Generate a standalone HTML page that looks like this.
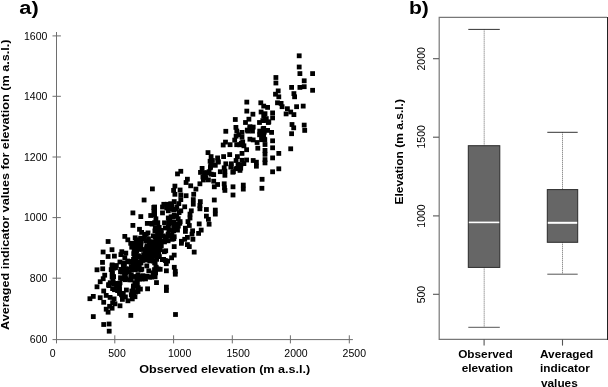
<!DOCTYPE html>
<html><head><meta charset="utf-8"><title>Figure</title>
<style>
html,body{margin:0;padding:0;background:#fff;}
body{width:608px;height:387px;overflow:hidden;font-family:"Liberation Sans",sans-serif;}
svg{display:block;}
text{font-family:"Liberation Sans",sans-serif;fill:#000;}
.b{font-weight:bold;}
</style></head><body>
<svg style="filter:grayscale(1)" width="608" height="387" viewBox="0 0 608 387">
<rect width="608" height="387" fill="#fff"/>

<text class="b" x="19.3" y="14" font-size="18" textLength="19.4" lengthAdjust="spacingAndGlyphs">a)</text>
<text class="b" x="408.9" y="14" font-size="18.4" textLength="19.9" lengthAdjust="spacingAndGlyphs">b)</text>
<g stroke="#6e6e6e" stroke-width="1" fill="none">
<line x1="56.5" y1="32" x2="56.5" y2="343.4"/>
<line x1="52.5" y1="339.6" x2="352.9" y2="339.6"/>
<line x1="52.5" y1="35.9" x2="60.9" y2="35.9"/>
<line x1="52.5" y1="96.3" x2="60.9" y2="96.3"/>
<line x1="52.5" y1="157" x2="60.9" y2="157"/>
<line x1="52.5" y1="217.6" x2="60.9" y2="217.6"/>
<line x1="52.5" y1="278.2" x2="60.9" y2="278.2"/>
<line x1="114.8" y1="335.3" x2="114.8" y2="343.4"/>
<line x1="173.6" y1="335.3" x2="173.6" y2="343.4"/>
<line x1="232.3" y1="335.3" x2="232.3" y2="343.4"/>
<line x1="290.4" y1="335.3" x2="290.4" y2="343.4"/>
<line x1="349.3" y1="335.3" x2="349.3" y2="343.4"/>
</g>
<text x="47.4" y="342.8" font-size="10.5" text-anchor="end">600</text>
<text x="47.4" y="281.95" font-size="10.5" text-anchor="end">800</text>
<text x="47.4" y="221.35" font-size="10.5" text-anchor="end">1000</text>
<text x="47.4" y="160.65" font-size="10.5" text-anchor="end">1200</text>
<text x="47.4" y="99.75" font-size="10.5" text-anchor="end">1400</text>
<text x="47.4" y="39.7" font-size="10.5" text-anchor="end">1600</text>
<text x="52.7" y="356.7" font-size="10.5" text-anchor="middle">0</text>
<text x="117" y="356.7" font-size="10.5" text-anchor="middle">500</text>
<text x="179.6" y="356.7" font-size="10.5" text-anchor="middle">1000</text>
<text x="238.2" y="356.7" font-size="10.5" text-anchor="middle">1500</text>
<text x="296" y="356.7" font-size="10.5" text-anchor="middle">2000</text>
<text x="354.3" y="356.7" font-size="10.5" text-anchor="middle">2500</text>
<text class="b" x="139.3" y="373.2" font-size="11.5" textLength="171" lengthAdjust="spacingAndGlyphs">Observed elevation (m a.s.l.)</text>
<text class="b" transform="translate(9.1,330) rotate(-90)" font-size="11.5" textLength="290.5" lengthAdjust="spacingAndGlyphs">Averaged indicator values for elevation (m a.s.l.)</text>
<g fill="#000">
<rect x="296.8" y="53.4" width="4.8" height="4.8"/>
<rect x="296.8" y="64.6" width="4.8" height="4.8"/>
<rect x="297.5" y="71.2" width="4.8" height="4.8"/>
<rect x="310.2" y="71.2" width="4.8" height="4.8"/>
<rect x="273.5" y="75.1" width="4.8" height="4.8"/>
<rect x="273.5" y="80.6" width="4.8" height="4.8"/>
<rect x="301.8" y="78.4" width="4.8" height="4.8"/>
<rect x="289.2" y="85.0" width="4.8" height="4.8"/>
<rect x="297.5" y="85.0" width="4.8" height="4.8"/>
<rect x="301.8" y="84.3" width="4.8" height="4.8"/>
<rect x="310.2" y="87.9" width="4.8" height="4.8"/>
<rect x="275.8" y="88.5" width="4.8" height="4.8"/>
<rect x="273.1" y="91.8" width="4.8" height="4.8"/>
<rect x="276.4" y="94.4" width="4.8" height="4.8"/>
<rect x="291.5" y="91.2" width="4.8" height="4.8"/>
<rect x="292.2" y="94.4" width="4.8" height="4.8"/>
<rect x="244.4" y="99.7" width="4.8" height="4.8"/>
<rect x="258.4" y="100.4" width="4.8" height="4.8"/>
<rect x="261.3" y="103.7" width="4.8" height="4.8"/>
<rect x="265.2" y="105.0" width="4.8" height="4.8"/>
<rect x="275.1" y="100.4" width="4.8" height="4.8"/>
<rect x="278.7" y="101.0" width="4.8" height="4.8"/>
<rect x="279.7" y="104.3" width="4.8" height="4.8"/>
<rect x="285.0" y="106.3" width="4.8" height="4.8"/>
<rect x="294.2" y="104.3" width="4.8" height="4.8"/>
<rect x="300.8" y="103.7" width="4.8" height="4.8"/>
<rect x="244.4" y="108.7" width="4.8" height="4.8"/>
<rect x="250.5" y="111.8" width="4.8" height="4.8"/>
<rect x="258.7" y="109.6" width="4.8" height="4.8"/>
<rect x="261.3" y="113.5" width="4.8" height="4.8"/>
<rect x="270.2" y="110.5" width="4.8" height="4.8"/>
<rect x="283.7" y="111.5" width="4.8" height="4.8"/>
<rect x="288.3" y="109.6" width="4.8" height="4.8"/>
<rect x="291.5" y="112.2" width="4.8" height="4.8"/>
<rect x="246.5" y="116.8" width="4.8" height="4.8"/>
<rect x="243.1" y="120.1" width="4.8" height="4.8"/>
<rect x="257.1" y="120.1" width="4.8" height="4.8"/>
<rect x="263.9" y="116.2" width="4.8" height="4.8"/>
<rect x="270.2" y="115.5" width="4.8" height="4.8"/>
<rect x="265.9" y="120.1" width="4.8" height="4.8"/>
<rect x="262.6" y="118.1" width="4.8" height="4.8"/>
<rect x="247.5" y="125.4" width="4.8" height="4.8"/>
<rect x="250.8" y="124.7" width="4.8" height="4.8"/>
<rect x="245.5" y="128.7" width="4.8" height="4.8"/>
<rect x="250.1" y="128.7" width="4.8" height="4.8"/>
<rect x="239.6" y="130.0" width="4.8" height="4.8"/>
<rect x="257.3" y="128.7" width="4.8" height="4.8"/>
<rect x="261.3" y="126.0" width="4.8" height="4.8"/>
<rect x="265.2" y="128.0" width="4.8" height="4.8"/>
<rect x="269.2" y="130.0" width="4.8" height="4.8"/>
<rect x="289.6" y="122.1" width="4.8" height="4.8"/>
<rect x="291.3" y="125.4" width="4.8" height="4.8"/>
<rect x="301.8" y="122.7" width="4.8" height="4.8"/>
<rect x="302.3" y="128.0" width="4.8" height="4.8"/>
<rect x="289.2" y="131.3" width="4.8" height="4.8"/>
<rect x="232.9" y="117.1" width="4.8" height="4.8"/>
<rect x="233.5" y="125.0" width="4.8" height="4.8"/>
<rect x="223.4" y="128.9" width="4.8" height="4.8"/>
<rect x="234.4" y="128.6" width="4.8" height="4.8"/>
<rect x="239.6" y="134.8" width="4.8" height="4.8"/>
<rect x="259.3" y="133.5" width="4.8" height="4.8"/>
<rect x="261.9" y="136.8" width="4.8" height="4.8"/>
<rect x="247.5" y="136.8" width="4.8" height="4.8"/>
<rect x="250.8" y="137.5" width="4.8" height="4.8"/>
<rect x="254.7" y="140.1" width="4.8" height="4.8"/>
<rect x="270.2" y="138.4" width="4.8" height="4.8"/>
<rect x="262.6" y="142.1" width="4.8" height="4.8"/>
<rect x="241.5" y="143.4" width="4.8" height="4.8"/>
<rect x="238.9" y="140.8" width="4.8" height="4.8"/>
<rect x="244.2" y="147.3" width="4.8" height="4.8"/>
<rect x="255.4" y="145.8" width="4.8" height="4.8"/>
<rect x="270.2" y="145.4" width="4.8" height="4.8"/>
<rect x="288.3" y="146.4" width="4.8" height="4.8"/>
<rect x="239.6" y="151.0" width="4.8" height="4.8"/>
<rect x="262.6" y="148.0" width="4.8" height="4.8"/>
<rect x="262.6" y="151.9" width="4.8" height="4.8"/>
<rect x="276.4" y="151.0" width="4.8" height="4.8"/>
<rect x="270.2" y="155.5" width="4.8" height="4.8"/>
<rect x="262.6" y="157.2" width="4.8" height="4.8"/>
<rect x="262.6" y="160.5" width="4.8" height="4.8"/>
<rect x="239.6" y="157.9" width="4.8" height="4.8"/>
<rect x="244.2" y="157.6" width="4.8" height="4.8"/>
<rect x="250.8" y="158.1" width="4.8" height="4.8"/>
<rect x="254.0" y="159.8" width="4.8" height="4.8"/>
<rect x="254.0" y="163.8" width="4.8" height="4.8"/>
<rect x="241.5" y="161.2" width="4.8" height="4.8"/>
<rect x="238.3" y="165.8" width="4.8" height="4.8"/>
<rect x="276.4" y="166.4" width="4.8" height="4.8"/>
<rect x="270.2" y="169.4" width="4.8" height="4.8"/>
<rect x="259.7" y="176.9" width="4.8" height="4.8"/>
<rect x="233.7" y="133.8" width="4.8" height="4.8"/>
<rect x="232.3" y="137.7" width="4.8" height="4.8"/>
<rect x="223.1" y="139.7" width="4.8" height="4.8"/>
<rect x="220.8" y="142.6" width="4.8" height="4.8"/>
<rect x="227.7" y="142.3" width="4.8" height="4.8"/>
<rect x="234.3" y="142.3" width="4.8" height="4.8"/>
<rect x="205.6" y="150.2" width="4.8" height="4.8"/>
<rect x="208.7" y="154.2" width="4.8" height="4.8"/>
<rect x="227.3" y="152.2" width="4.8" height="4.8"/>
<rect x="221.2" y="154.2" width="4.8" height="4.8"/>
<rect x="215.2" y="155.5" width="4.8" height="4.8"/>
<rect x="210.0" y="158.1" width="4.8" height="4.8"/>
<rect x="215.9" y="159.4" width="4.8" height="4.8"/>
<rect x="235.0" y="154.2" width="4.8" height="4.8"/>
<rect x="233.7" y="158.1" width="4.8" height="4.8"/>
<rect x="223.4" y="161.4" width="4.8" height="4.8"/>
<rect x="229.0" y="161.4" width="4.8" height="4.8"/>
<rect x="208.7" y="162.1" width="4.8" height="4.8"/>
<rect x="235.6" y="162.1" width="4.8" height="4.8"/>
<rect x="199.7" y="166.0" width="4.8" height="4.8"/>
<rect x="208.0" y="165.4" width="4.8" height="4.8"/>
<rect x="221.8" y="165.4" width="4.8" height="4.8"/>
<rect x="228.4" y="164.7" width="4.8" height="4.8"/>
<rect x="235.0" y="166.0" width="4.8" height="4.8"/>
<rect x="178.4" y="168.9" width="4.8" height="4.8"/>
<rect x="175.1" y="171.5" width="4.8" height="4.8"/>
<rect x="198.1" y="170.0" width="4.8" height="4.8"/>
<rect x="206.7" y="169.3" width="4.8" height="4.8"/>
<rect x="217.9" y="169.3" width="4.8" height="4.8"/>
<rect x="222.5" y="168.7" width="4.8" height="4.8"/>
<rect x="231.0" y="169.3" width="4.8" height="4.8"/>
<rect x="237.6" y="168.0" width="4.8" height="4.8"/>
<rect x="202.1" y="170.2" width="4.8" height="4.8"/>
<rect x="211.3" y="172.2" width="4.8" height="4.8"/>
<rect x="202.1" y="174.8" width="4.8" height="4.8"/>
<rect x="206.0" y="177.5" width="4.8" height="4.8"/>
<rect x="222.5" y="172.9" width="4.8" height="4.8"/>
<rect x="185.0" y="176.8" width="4.8" height="4.8"/>
<rect x="183.7" y="180.1" width="4.8" height="4.8"/>
<rect x="188.3" y="183.4" width="4.8" height="4.8"/>
<rect x="197.5" y="181.4" width="4.8" height="4.8"/>
<rect x="193.5" y="186.7" width="4.8" height="4.8"/>
<rect x="211.3" y="178.8" width="4.8" height="4.8"/>
<rect x="215.2" y="182.1" width="4.8" height="4.8"/>
<rect x="211.9" y="184.4" width="4.8" height="4.8"/>
<rect x="221.8" y="181.4" width="4.8" height="4.8"/>
<rect x="222.1" y="185.4" width="4.8" height="4.8"/>
<rect x="222.5" y="188.0" width="4.8" height="4.8"/>
<rect x="230.6" y="184.4" width="4.8" height="4.8"/>
<rect x="240.9" y="182.7" width="4.8" height="4.8"/>
<rect x="240.9" y="186.7" width="4.8" height="4.8"/>
<rect x="230.6" y="192.6" width="4.8" height="4.8"/>
<rect x="172.5" y="183.7" width="4.8" height="4.8"/>
<rect x="171.2" y="188.0" width="4.8" height="4.8"/>
<rect x="177.7" y="187.6" width="4.8" height="4.8"/>
<rect x="172.5" y="191.9" width="4.8" height="4.8"/>
<rect x="178.4" y="192.6" width="4.8" height="4.8"/>
<rect x="183.7" y="193.3" width="4.8" height="4.8"/>
<rect x="191.3" y="191.9" width="4.8" height="4.8"/>
<rect x="190.9" y="197.2" width="4.8" height="4.8"/>
<rect x="190.9" y="201.8" width="4.8" height="4.8"/>
<rect x="178.4" y="197.2" width="4.8" height="4.8"/>
<rect x="171.8" y="199.2" width="4.8" height="4.8"/>
<rect x="176.4" y="201.2" width="4.8" height="4.8"/>
<rect x="211.9" y="197.6" width="4.8" height="4.8"/>
<rect x="197.9" y="199.2" width="4.8" height="4.8"/>
<rect x="197.5" y="203.1" width="4.8" height="4.8"/>
<rect x="197.5" y="206.4" width="4.8" height="4.8"/>
<rect x="165.2" y="204.4" width="4.8" height="4.8"/>
<rect x="169.2" y="203.8" width="4.8" height="4.8"/>
<rect x="174.4" y="204.4" width="4.8" height="4.8"/>
<rect x="182.3" y="204.4" width="4.8" height="4.8"/>
<rect x="165.9" y="208.4" width="4.8" height="4.8"/>
<rect x="171.2" y="207.7" width="4.8" height="4.8"/>
<rect x="178.4" y="208.4" width="4.8" height="4.8"/>
<rect x="188.9" y="208.4" width="4.8" height="4.8"/>
<rect x="204.0" y="207.1" width="4.8" height="4.8"/>
<rect x="212.9" y="207.7" width="4.8" height="4.8"/>
<rect x="212.9" y="211.7" width="4.8" height="4.8"/>
<rect x="187.6" y="211.7" width="4.8" height="4.8"/>
<rect x="204.0" y="213.7" width="4.8" height="4.8"/>
<rect x="171.8" y="213.0" width="4.8" height="4.8"/>
<rect x="165.9" y="215.6" width="4.8" height="4.8"/>
<rect x="175.8" y="216.3" width="4.8" height="4.8"/>
<rect x="187.6" y="215.6" width="4.8" height="4.8"/>
<rect x="206.0" y="216.9" width="4.8" height="4.8"/>
<rect x="150.0" y="186.5" width="4.8" height="4.8"/>
<rect x="141.7" y="197.6" width="4.8" height="4.8"/>
<rect x="161.4" y="201.9" width="4.8" height="4.8"/>
<rect x="160.1" y="204.6" width="4.8" height="4.8"/>
<rect x="152.2" y="204.6" width="4.8" height="4.8"/>
<rect x="152.2" y="208.5" width="4.8" height="4.8"/>
<rect x="152.2" y="212.5" width="4.8" height="4.8"/>
<rect x="130.5" y="210.5" width="4.8" height="4.8"/>
<rect x="138.4" y="214.2" width="4.8" height="4.8"/>
<rect x="160.1" y="210.5" width="4.8" height="4.8"/>
<rect x="153.5" y="216.4" width="4.8" height="4.8"/>
<rect x="168.7" y="214.4" width="4.8" height="4.8"/>
<rect x="173.9" y="213.8" width="4.8" height="4.8"/>
<rect x="130.5" y="223.0" width="4.8" height="4.8"/>
<rect x="149.6" y="221.7" width="4.8" height="4.8"/>
<rect x="153.5" y="221.0" width="4.8" height="4.8"/>
<rect x="162.1" y="220.4" width="4.8" height="4.8"/>
<rect x="167.3" y="218.4" width="4.8" height="4.8"/>
<rect x="171.3" y="219.7" width="4.8" height="4.8"/>
<rect x="137.1" y="226.9" width="4.8" height="4.8"/>
<rect x="152.9" y="225.6" width="4.8" height="4.8"/>
<rect x="156.8" y="225.0" width="4.8" height="4.8"/>
<rect x="166.0" y="225.0" width="4.8" height="4.8"/>
<rect x="171.3" y="224.3" width="4.8" height="4.8"/>
<rect x="175.9" y="223.7" width="4.8" height="4.8"/>
<rect x="170.5" y="214.6" width="4.8" height="4.8"/>
<rect x="166.5" y="219.8" width="4.8" height="4.8"/>
<rect x="177.7" y="219.2" width="4.8" height="4.8"/>
<rect x="185.6" y="219.2" width="4.8" height="4.8"/>
<rect x="186.9" y="223.1" width="4.8" height="4.8"/>
<rect x="206.7" y="221.8" width="4.8" height="4.8"/>
<rect x="196.8" y="221.5" width="4.8" height="4.8"/>
<rect x="198.8" y="227.7" width="4.8" height="4.8"/>
<rect x="196.2" y="231.0" width="4.8" height="4.8"/>
<rect x="183.0" y="225.8" width="4.8" height="4.8"/>
<rect x="183.0" y="229.0" width="4.8" height="4.8"/>
<rect x="190.2" y="228.4" width="4.8" height="4.8"/>
<rect x="189.6" y="231.7" width="4.8" height="4.8"/>
<rect x="166.5" y="227.7" width="4.8" height="4.8"/>
<rect x="171.2" y="228.4" width="4.8" height="4.8"/>
<rect x="175.1" y="227.7" width="4.8" height="4.8"/>
<rect x="165.9" y="233.7" width="4.8" height="4.8"/>
<rect x="171.8" y="234.3" width="4.8" height="4.8"/>
<rect x="163.9" y="236.9" width="4.8" height="4.8"/>
<rect x="169.8" y="236.9" width="4.8" height="4.8"/>
<rect x="185.0" y="235.0" width="4.8" height="4.8"/>
<rect x="182.3" y="236.9" width="4.8" height="4.8"/>
<rect x="190.5" y="236.9" width="4.8" height="4.8"/>
<rect x="179.0" y="238.9" width="4.8" height="4.8"/>
<rect x="179.0" y="240.9" width="4.8" height="4.8"/>
<rect x="185.0" y="242.2" width="4.8" height="4.8"/>
<rect x="186.9" y="244.2" width="4.8" height="4.8"/>
<rect x="171.8" y="244.2" width="4.8" height="4.8"/>
<rect x="191.8" y="249.7" width="4.8" height="4.8"/>
<rect x="163.3" y="248.4" width="4.8" height="4.8"/>
<rect x="171.8" y="252.7" width="4.8" height="4.8"/>
<rect x="169.2" y="255.4" width="4.8" height="4.8"/>
<rect x="165.2" y="258.7" width="4.8" height="4.8"/>
<rect x="163.9" y="261.3" width="4.8" height="4.8"/>
<rect x="122.4" y="234.0" width="4.8" height="4.8"/>
<rect x="125.4" y="237.4" width="4.8" height="4.8"/>
<rect x="128.3" y="240.9" width="4.8" height="4.8"/>
<rect x="109.6" y="247.3" width="4.8" height="4.8"/>
<rect x="112.0" y="253.7" width="4.8" height="4.8"/>
<rect x="119.4" y="249.3" width="4.8" height="4.8"/>
<rect x="118.5" y="252.2" width="4.8" height="4.8"/>
<rect x="123.4" y="250.7" width="4.8" height="4.8"/>
<rect x="122.4" y="255.2" width="4.8" height="4.8"/>
<rect x="117.5" y="259.6" width="4.8" height="4.8"/>
<rect x="125.4" y="258.6" width="4.8" height="4.8"/>
<rect x="128.8" y="259.1" width="4.8" height="4.8"/>
<rect x="129.3" y="244.8" width="4.8" height="4.8"/>
<rect x="132.8" y="235.4" width="4.8" height="4.8"/>
<rect x="136.2" y="237.4" width="4.8" height="4.8"/>
<rect x="139.2" y="230.0" width="4.8" height="4.8"/>
<rect x="142.2" y="232.5" width="4.8" height="4.8"/>
<rect x="145.6" y="230.5" width="4.8" height="4.8"/>
<rect x="141.7" y="236.4" width="4.8" height="4.8"/>
<rect x="146.1" y="236.4" width="4.8" height="4.8"/>
<rect x="152.5" y="228.5" width="4.8" height="4.8"/>
<rect x="158.9" y="228.0" width="4.8" height="4.8"/>
<rect x="162.9" y="225.6" width="4.8" height="4.8"/>
<rect x="151.0" y="233.5" width="4.8" height="4.8"/>
<rect x="157.0" y="235.4" width="4.8" height="4.8"/>
<rect x="160.9" y="233.5" width="4.8" height="4.8"/>
<rect x="135.2" y="242.3" width="4.8" height="4.8"/>
<rect x="132.3" y="245.3" width="4.8" height="4.8"/>
<rect x="134.3" y="248.3" width="4.8" height="4.8"/>
<rect x="144.6" y="243.3" width="4.8" height="4.8"/>
<rect x="147.1" y="240.4" width="4.8" height="4.8"/>
<rect x="151.0" y="239.4" width="4.8" height="4.8"/>
<rect x="155.0" y="240.4" width="4.8" height="4.8"/>
<rect x="160.9" y="238.9" width="4.8" height="4.8"/>
<rect x="144.1" y="246.3" width="4.8" height="4.8"/>
<rect x="149.1" y="244.3" width="4.8" height="4.8"/>
<rect x="148.1" y="249.3" width="4.8" height="4.8"/>
<rect x="158.9" y="243.3" width="4.8" height="4.8"/>
<rect x="157.9" y="247.3" width="4.8" height="4.8"/>
<rect x="161.9" y="249.3" width="4.8" height="4.8"/>
<rect x="155.0" y="251.2" width="4.8" height="4.8"/>
<rect x="132.3" y="253.2" width="4.8" height="4.8"/>
<rect x="136.2" y="254.2" width="4.8" height="4.8"/>
<rect x="141.2" y="252.2" width="4.8" height="4.8"/>
<rect x="145.1" y="253.2" width="4.8" height="4.8"/>
<rect x="150.0" y="254.2" width="4.8" height="4.8"/>
<rect x="157.0" y="254.2" width="4.8" height="4.8"/>
<rect x="133.3" y="257.6" width="4.8" height="4.8"/>
<rect x="139.2" y="257.6" width="4.8" height="4.8"/>
<rect x="144.1" y="257.6" width="4.8" height="4.8"/>
<rect x="151.0" y="258.6" width="4.8" height="4.8"/>
<rect x="159.9" y="257.2" width="4.8" height="4.8"/>
<rect x="162.9" y="258.1" width="4.8" height="4.8"/>
<rect x="105.7" y="254.1" width="4.8" height="4.8"/>
<rect x="100.1" y="260.0" width="4.8" height="4.8"/>
<rect x="94.6" y="267.4" width="4.8" height="4.8"/>
<rect x="100.3" y="266.4" width="4.8" height="4.8"/>
<rect x="102.3" y="272.8" width="4.8" height="4.8"/>
<rect x="100.8" y="276.3" width="4.8" height="4.8"/>
<rect x="97.8" y="279.3" width="4.8" height="4.8"/>
<rect x="94.6" y="284.4" width="4.8" height="4.8"/>
<rect x="101.3" y="288.6" width="4.8" height="4.8"/>
<rect x="106.2" y="282.2" width="4.8" height="4.8"/>
<rect x="109.7" y="263.5" width="4.8" height="4.8"/>
<rect x="109.7" y="270.4" width="4.8" height="4.8"/>
<rect x="109.7" y="274.8" width="4.8" height="4.8"/>
<rect x="113.1" y="265.4" width="4.8" height="4.8"/>
<rect x="122.0" y="261.5" width="4.8" height="4.8"/>
<rect x="132.9" y="260.5" width="4.8" height="4.8"/>
<rect x="118.1" y="269.4" width="4.8" height="4.8"/>
<rect x="123.0" y="266.4" width="4.8" height="4.8"/>
<rect x="128.9" y="264.4" width="4.8" height="4.8"/>
<rect x="133.9" y="266.4" width="4.8" height="4.8"/>
<rect x="123.0" y="272.3" width="4.8" height="4.8"/>
<rect x="118.1" y="275.3" width="4.8" height="4.8"/>
<rect x="128.9" y="272.3" width="4.8" height="4.8"/>
<rect x="134.9" y="275.3" width="4.8" height="4.8"/>
<rect x="123.0" y="277.3" width="4.8" height="4.8"/>
<rect x="128.9" y="277.3" width="4.8" height="4.8"/>
<rect x="111.2" y="281.2" width="4.8" height="4.8"/>
<rect x="117.1" y="281.2" width="4.8" height="4.8"/>
<rect x="132.4" y="281.2" width="4.8" height="4.8"/>
<rect x="110.2" y="286.2" width="4.8" height="4.8"/>
<rect x="117.1" y="286.2" width="4.8" height="4.8"/>
<rect x="124.0" y="287.6" width="4.8" height="4.8"/>
<rect x="130.9" y="286.2" width="4.8" height="4.8"/>
<rect x="135.8" y="285.2" width="4.8" height="4.8"/>
<rect x="117.1" y="289.6" width="4.8" height="4.8"/>
<rect x="135.6" y="259.5" width="4.8" height="4.8"/>
<rect x="147.4" y="258.5" width="4.8" height="4.8"/>
<rect x="152.3" y="260.5" width="4.8" height="4.8"/>
<rect x="135.6" y="265.4" width="4.8" height="4.8"/>
<rect x="138.5" y="267.4" width="4.8" height="4.8"/>
<rect x="144.4" y="263.5" width="4.8" height="4.8"/>
<rect x="146.4" y="268.4" width="4.8" height="4.8"/>
<rect x="153.8" y="265.4" width="4.8" height="4.8"/>
<rect x="157.8" y="266.9" width="4.8" height="4.8"/>
<rect x="152.3" y="271.4" width="4.8" height="4.8"/>
<rect x="135.6" y="272.3" width="4.8" height="4.8"/>
<rect x="140.5" y="273.3" width="4.8" height="4.8"/>
<rect x="147.4" y="274.8" width="4.8" height="4.8"/>
<rect x="134.6" y="277.3" width="4.8" height="4.8"/>
<rect x="134.6" y="281.2" width="4.8" height="4.8"/>
<rect x="161.2" y="257.0" width="4.8" height="4.8"/>
<rect x="164.0" y="268.4" width="4.8" height="4.8"/>
<rect x="171.9" y="264.9" width="4.8" height="4.8"/>
<rect x="172.9" y="268.9" width="4.8" height="4.8"/>
<rect x="172.9" y="271.8" width="4.8" height="4.8"/>
<rect x="154.1" y="280.2" width="4.8" height="4.8"/>
<rect x="164.0" y="284.7" width="4.8" height="4.8"/>
<rect x="164.0" y="288.1" width="4.8" height="4.8"/>
<rect x="145.2" y="286.4" width="4.8" height="4.8"/>
<rect x="138.0" y="286.7" width="4.8" height="4.8"/>
<rect x="135.6" y="289.1" width="4.8" height="4.8"/>
<rect x="90.9" y="294.0" width="4.8" height="4.8"/>
<rect x="87.5" y="296.3" width="4.8" height="4.8"/>
<rect x="97.8" y="295.3" width="4.8" height="4.8"/>
<rect x="101.3" y="299.9" width="4.8" height="4.8"/>
<rect x="103.8" y="293.0" width="4.8" height="4.8"/>
<rect x="107.7" y="295.0" width="4.8" height="4.8"/>
<rect x="111.7" y="296.5" width="4.8" height="4.8"/>
<rect x="110.2" y="300.4" width="4.8" height="4.8"/>
<rect x="112.6" y="301.4" width="4.8" height="4.8"/>
<rect x="107.2" y="303.9" width="4.8" height="4.8"/>
<rect x="109.7" y="305.8" width="4.8" height="4.8"/>
<rect x="103.8" y="306.8" width="4.8" height="4.8"/>
<rect x="105.7" y="309.8" width="4.8" height="4.8"/>
<rect x="117.6" y="303.4" width="4.8" height="4.8"/>
<rect x="119.1" y="292.5" width="4.8" height="4.8"/>
<rect x="120.0" y="297.0" width="4.8" height="4.8"/>
<rect x="123.0" y="294.5" width="4.8" height="4.8"/>
<rect x="125.5" y="298.4" width="4.8" height="4.8"/>
<rect x="129.4" y="288.6" width="4.8" height="4.8"/>
<rect x="128.9" y="292.5" width="4.8" height="4.8"/>
<rect x="129.9" y="296.5" width="4.8" height="4.8"/>
<rect x="90.9" y="314.2" width="4.8" height="4.8"/>
<rect x="128.4" y="313.0" width="4.8" height="4.8"/>
<rect x="101.3" y="322.1" width="4.8" height="4.8"/>
<rect x="106.7" y="321.6" width="4.8" height="4.8"/>
<rect x="106.8" y="328.8" width="4.8" height="4.8"/>
<rect x="173.1" y="312.1" width="4.8" height="4.8"/>
<rect x="105.7" y="239.1" width="4.8" height="4.8"/>
<rect x="100.7" y="249.6" width="4.8" height="4.8"/>
<rect x="259.5" y="185.9" width="4.8" height="4.8"/>
<rect x="133.7" y="237.8" width="4.8" height="4.8"/>
<rect x="143.4" y="238.4" width="4.8" height="4.8"/>
<rect x="153.9" y="238.2" width="4.8" height="4.8"/>
<rect x="157.4" y="237.9" width="4.8" height="4.8"/>
<rect x="132.7" y="241.0" width="4.8" height="4.8"/>
<rect x="134.8" y="241.5" width="4.8" height="4.8"/>
<rect x="148.1" y="240.3" width="4.8" height="4.8"/>
<rect x="152.8" y="240.8" width="4.8" height="4.8"/>
<rect x="155.0" y="240.9" width="4.8" height="4.8"/>
<rect x="134.0" y="244.8" width="4.8" height="4.8"/>
<rect x="144.5" y="244.8" width="4.8" height="4.8"/>
<rect x="150.5" y="243.9" width="4.8" height="4.8"/>
<rect x="154.3" y="245.0" width="4.8" height="4.8"/>
<rect x="131.7" y="247.2" width="4.8" height="4.8"/>
<rect x="136.1" y="246.8" width="4.8" height="4.8"/>
<rect x="142.8" y="248.3" width="4.8" height="4.8"/>
<rect x="146.2" y="247.2" width="4.8" height="4.8"/>
<rect x="148.9" y="246.8" width="4.8" height="4.8"/>
<rect x="151.9" y="247.7" width="4.8" height="4.8"/>
<rect x="154.6" y="248.1" width="4.8" height="4.8"/>
<rect x="131.3" y="251.4" width="4.8" height="4.8"/>
<rect x="133.8" y="250.8" width="4.8" height="4.8"/>
<rect x="144.2" y="250.4" width="4.8" height="4.8"/>
<rect x="147.9" y="250.8" width="4.8" height="4.8"/>
<rect x="149.6" y="250.7" width="4.8" height="4.8"/>
<rect x="152.9" y="251.0" width="4.8" height="4.8"/>
<rect x="156.3" y="251.0" width="4.8" height="4.8"/>
<rect x="132.5" y="253.9" width="4.8" height="4.8"/>
<rect x="135.9" y="253.3" width="4.8" height="4.8"/>
<rect x="139.1" y="254.8" width="4.8" height="4.8"/>
<rect x="142.1" y="254.2" width="4.8" height="4.8"/>
<rect x="145.2" y="253.8" width="4.8" height="4.8"/>
<rect x="148.9" y="253.8" width="4.8" height="4.8"/>
<rect x="152.5" y="253.3" width="4.8" height="4.8"/>
<rect x="155.7" y="253.8" width="4.8" height="4.8"/>
<rect x="131.1" y="257.0" width="4.8" height="4.8"/>
<rect x="133.8" y="257.7" width="4.8" height="4.8"/>
<rect x="140.4" y="258.0" width="4.8" height="4.8"/>
<rect x="147.0" y="257.0" width="4.8" height="4.8"/>
<rect x="154.2" y="256.9" width="4.8" height="4.8"/>
<rect x="132.7" y="260.5" width="4.8" height="4.8"/>
<rect x="135.2" y="261.2" width="4.8" height="4.8"/>
<rect x="138.6" y="260.6" width="4.8" height="4.8"/>
<rect x="152.7" y="260.3" width="4.8" height="4.8"/>
<rect x="130.6" y="263.7" width="4.8" height="4.8"/>
<rect x="133.5" y="263.3" width="4.8" height="4.8"/>
<rect x="136.9" y="264.5" width="4.8" height="4.8"/>
<rect x="153.6" y="264.7" width="4.8" height="4.8"/>
<rect x="132.8" y="267.3" width="4.8" height="4.8"/>
<rect x="135.3" y="266.8" width="4.8" height="4.8"/>
<rect x="139.4" y="266.8" width="4.8" height="4.8"/>
<rect x="152.1" y="267.2" width="4.8" height="4.8"/>
<rect x="155.8" y="266.5" width="4.8" height="4.8"/>
<rect x="150.7" y="270.4" width="4.8" height="4.8"/>
<rect x="153.2" y="270.4" width="4.8" height="4.8"/>
<rect x="132.7" y="274.1" width="4.8" height="4.8"/>
<rect x="135.3" y="273.9" width="4.8" height="4.8"/>
<rect x="138.7" y="274.2" width="4.8" height="4.8"/>
<rect x="141.7" y="274.0" width="4.8" height="4.8"/>
<rect x="144.8" y="273.8" width="4.8" height="4.8"/>
<rect x="149.4" y="274.6" width="4.8" height="4.8"/>
<rect x="152.7" y="274.4" width="4.8" height="4.8"/>
<rect x="134.4" y="277.5" width="4.8" height="4.8"/>
<rect x="137.3" y="276.6" width="4.8" height="4.8"/>
<rect x="139.7" y="276.6" width="4.8" height="4.8"/>
<rect x="143.1" y="276.5" width="4.8" height="4.8"/>
<rect x="133.0" y="280.6" width="4.8" height="4.8"/>
<rect x="134.8" y="280.9" width="4.8" height="4.8"/>
<rect x="131.0" y="283.6" width="4.8" height="4.8"/>
<rect x="133.7" y="283.6" width="4.8" height="4.8"/>
<rect x="131.2" y="290.5" width="4.8" height="4.8"/>
<rect x="133.4" y="289.6" width="4.8" height="4.8"/>
<rect x="132.6" y="294.3" width="4.8" height="4.8"/>
<rect x="121.5" y="260.5" width="4.8" height="4.8"/>
<rect x="125.7" y="259.4" width="4.8" height="4.8"/>
<rect x="128.7" y="259.9" width="4.8" height="4.8"/>
<rect x="109.8" y="262.5" width="4.8" height="4.8"/>
<rect x="114.0" y="263.1" width="4.8" height="4.8"/>
<rect x="120.9" y="262.7" width="4.8" height="4.8"/>
<rect x="108.8" y="267.2" width="4.8" height="4.8"/>
<rect x="110.9" y="266.0" width="4.8" height="4.8"/>
<rect x="118.5" y="267.0" width="4.8" height="4.8"/>
<rect x="121.5" y="265.7" width="4.8" height="4.8"/>
<rect x="125.0" y="266.5" width="4.8" height="4.8"/>
<rect x="129.6" y="267.3" width="4.8" height="4.8"/>
<rect x="110.0" y="271.0" width="4.8" height="4.8"/>
<rect x="120.1" y="269.6" width="4.8" height="4.8"/>
<rect x="123.6" y="270.0" width="4.8" height="4.8"/>
<rect x="126.8" y="269.4" width="4.8" height="4.8"/>
<rect x="111.2" y="274.2" width="4.8" height="4.8"/>
<rect x="122.1" y="274.0" width="4.8" height="4.8"/>
<rect x="128.4" y="274.3" width="4.8" height="4.8"/>
<rect x="110.6" y="277.2" width="4.8" height="4.8"/>
<rect x="119.6" y="276.4" width="4.8" height="4.8"/>
<rect x="123.6" y="276.4" width="4.8" height="4.8"/>
<rect x="127.6" y="277.5" width="4.8" height="4.8"/>
<rect x="107.8" y="280.3" width="4.8" height="4.8"/>
<rect x="110.9" y="280.5" width="4.8" height="4.8"/>
<rect x="115.4" y="281.0" width="4.8" height="4.8"/>
<rect x="117.6" y="280.4" width="4.8" height="4.8"/>
<rect x="106.5" y="283.2" width="4.8" height="4.8"/>
<rect x="114.1" y="283.6" width="4.8" height="4.8"/>
<rect x="116.8" y="285.0" width="4.8" height="4.8"/>
<rect x="112.1" y="287.3" width="4.8" height="4.8"/>
<rect x="115.2" y="288.2" width="4.8" height="4.8"/>
<rect x="117.2" y="291.1" width="4.8" height="4.8"/>
<rect x="120.9" y="290.9" width="4.8" height="4.8"/>
<rect x="164.9" y="201.9" width="4.8" height="4.8"/>
<rect x="168.3" y="201.3" width="4.8" height="4.8"/>
<rect x="151.4" y="205.0" width="4.8" height="4.8"/>
<rect x="164.4" y="205.6" width="4.8" height="4.8"/>
<rect x="167.2" y="206.5" width="4.8" height="4.8"/>
<rect x="173.7" y="206.8" width="4.8" height="4.8"/>
<rect x="151.5" y="208.9" width="4.8" height="4.8"/>
<rect x="176.7" y="210.2" width="4.8" height="4.8"/>
<rect x="148.3" y="213.1" width="4.8" height="4.8"/>
<rect x="174.3" y="213.7" width="4.8" height="4.8"/>
<rect x="144.9" y="221.0" width="4.8" height="4.8"/>
<rect x="149.1" y="221.0" width="4.8" height="4.8"/>
<rect x="152.3" y="220.2" width="4.8" height="4.8"/>
<rect x="155.4" y="220.3" width="4.8" height="4.8"/>
<rect x="166.7" y="221.5" width="4.8" height="4.8"/>
<rect x="170.7" y="220.3" width="4.8" height="4.8"/>
<rect x="173.8" y="221.4" width="4.8" height="4.8"/>
<rect x="177.4" y="220.9" width="4.8" height="4.8"/>
<rect x="155.6" y="227.6" width="4.8" height="4.8"/>
<rect x="170.5" y="228.2" width="4.8" height="4.8"/>
<rect x="143.9" y="231.9" width="4.8" height="4.8"/>
<rect x="155.1" y="231.6" width="4.8" height="4.8"/>
<rect x="158.7" y="231.2" width="4.8" height="4.8"/>
<rect x="165.7" y="231.7" width="4.8" height="4.8"/>
<rect x="169.6" y="232.6" width="4.8" height="4.8"/>
<rect x="138.2" y="235.8" width="4.8" height="4.8"/>
<rect x="152.8" y="234.8" width="4.8" height="4.8"/>
<rect x="162.6" y="234.7" width="4.8" height="4.8"/>
<rect x="171.4" y="236.3" width="4.8" height="4.8"/>
<rect x="138.6" y="239.6" width="4.8" height="4.8"/>
<rect x="147.0" y="239.4" width="4.8" height="4.8"/>
<rect x="154.3" y="238.5" width="4.8" height="4.8"/>
<rect x="157.7" y="239.7" width="4.8" height="4.8"/>
<rect x="162.1" y="239.5" width="4.8" height="4.8"/>
<rect x="165.7" y="238.4" width="4.8" height="4.8"/>
<rect x="138.5" y="243.3" width="4.8" height="4.8"/>
<rect x="148.4" y="242.4" width="4.8" height="4.8"/>
<rect x="152.6" y="242.6" width="4.8" height="4.8"/>
<rect x="139.4" y="247.1" width="4.8" height="4.8"/>
<rect x="236.4" y="132.4" width="4.8" height="4.8"/>
<rect x="240.3" y="139.6" width="4.8" height="4.8"/>
<rect x="237.3" y="142.4" width="4.8" height="4.8"/>
<rect x="262.6" y="111.3" width="4.8" height="4.8"/>
<rect x="260.4" y="118.2" width="4.8" height="4.8"/>
<rect x="266.4" y="119.4" width="4.8" height="4.8"/>
<rect x="247.6" y="124.3" width="4.8" height="4.8"/>
<rect x="244.9" y="127.7" width="4.8" height="4.8"/>
<rect x="249.1" y="126.6" width="4.8" height="4.8"/>
<rect x="260.7" y="126.5" width="4.8" height="4.8"/>
<rect x="261.9" y="129.8" width="4.8" height="4.8"/>
<rect x="257.2" y="132.4" width="4.8" height="4.8"/>
<rect x="261.2" y="132.9" width="4.8" height="4.8"/>
<rect x="259.1" y="137.3" width="4.8" height="4.8"/>
<rect x="262.4" y="137.3" width="4.8" height="4.8"/>
<rect x="207.7" y="158.9" width="4.8" height="4.8"/>
<rect x="215.5" y="159.6" width="4.8" height="4.8"/>
<rect x="208.2" y="164.1" width="4.8" height="4.8"/>
<rect x="212.9" y="162.9" width="4.8" height="4.8"/>
<rect x="205.0" y="170.5" width="4.8" height="4.8"/>
<rect x="208.8" y="171.8" width="4.8" height="4.8"/>
<rect x="200.5" y="174.6" width="4.8" height="4.8"/>
<rect x="203.4" y="175.1" width="4.8" height="4.8"/>
<rect x="201.0" y="177.6" width="4.8" height="4.8"/>
<rect x="238.4" y="162.4" width="4.8" height="4.8"/>
<rect x="233.2" y="166.3" width="4.8" height="4.8"/>
<rect x="236.8" y="166.3" width="4.8" height="4.8"/>
<rect x="230.4" y="169.8" width="4.8" height="4.8"/>
</g>
<g stroke="#777" stroke-width="1.1" fill="none">
<path d="M607,17.4 H439.2 V339.3 H607" stroke-width="1.2"/>
<line x1="433" y1="58.7" x2="439" y2="58.7" stroke="#555"/>
<line x1="433" y1="137.2" x2="439" y2="137.2" stroke="#555"/>
<line x1="433" y1="215.9" x2="439" y2="215.9" stroke="#555"/>
<line x1="433" y1="294.3" x2="439" y2="294.3" stroke="#555"/>
<line x1="484.1" y1="339.3" x2="484.1" y2="345.6" stroke="#555"/>
<line x1="562.5" y1="339.3" x2="562.5" y2="345.6" stroke="#555"/>
</g>
<rect x="607" y="17" width="1" height="323" fill="#222"/>
<g>
<line x1="484.2" y1="29.4" x2="484.2" y2="145.7" stroke="#666" stroke-width="1" stroke-dasharray="1 1"/>
<line x1="484.2" y1="267.4" x2="484.2" y2="327.3" stroke="#666" stroke-width="1" stroke-dasharray="1 1"/>
<line x1="468.3" y1="29.4" x2="499.8" y2="29.4" stroke="#333" stroke-width="1"/>
<line x1="468.3" y1="327.3" x2="499.8" y2="327.3" stroke="#555" stroke-width="1"/>
<rect x="468.3" y="145.7" width="31.5" height="121.69999999999999" fill="#666" stroke="#2a2a2a" stroke-width="1"/>
<rect x="468.8" y="221.6" width="30.5" height="1.6" fill="#fff"/>
</g>
<g>
<line x1="562.5" y1="132.3" x2="562.5" y2="189.6" stroke="#666" stroke-width="1" stroke-dasharray="1 1"/>
<line x1="562.5" y1="242.3" x2="562.5" y2="274.2" stroke="#666" stroke-width="1" stroke-dasharray="1 1"/>
<line x1="547.3" y1="132.3" x2="577.7" y2="132.3" stroke="#333" stroke-width="1"/>
<line x1="547.3" y1="274.2" x2="577.7" y2="274.2" stroke="#555" stroke-width="1"/>
<rect x="547.3" y="189.6" width="30.40000000000009" height="52.70000000000002" fill="#666" stroke="#2a2a2a" stroke-width="1"/>
<rect x="547.8" y="221.8" width="29.40000000000009" height="2" fill="#fff"/>
</g>
<text transform="translate(424.7,58.8) rotate(-90)" font-size="10.5" text-anchor="middle">2000</text>
<text transform="translate(424.7,136.8) rotate(-90)" font-size="10.5" text-anchor="middle">1500</text>
<text transform="translate(424.7,216) rotate(-90)" font-size="10.5" text-anchor="middle">1000</text>
<text transform="translate(424.7,294.6) rotate(-90)" font-size="10.5" text-anchor="middle">500</text>
<text class="b" transform="translate(402.9,204.5) rotate(-90)" font-size="11.5" textLength="105.4" lengthAdjust="spacingAndGlyphs">Elevation (m a.s.l.)</text>
<text class="b" x="485.4" y="357.8" font-size="11.8" text-anchor="middle">Observed</text>
<text class="b" x="487.3" y="372.2" font-size="11.8" text-anchor="middle">elevation</text>
<text class="b" x="540" y="357.8" font-size="11.8">Averaged</text>
<text class="b" x="540" y="372.2" font-size="11.8">indicator</text>
<text class="b" x="541" y="386.5" font-size="11.8">values</text>
</svg></body></html>
